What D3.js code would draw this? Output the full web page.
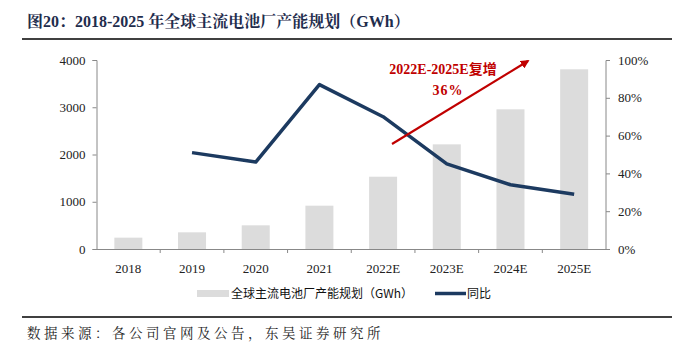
<!DOCTYPE html>
<html><head><meta charset="utf-8">
<script src="https://cdn.jsdelivr.net/npm/d3@7"></script>
<style>body{margin:0;background:#fff;}svg{display:block;}</style>
</head><body>
<svg id="c" width="675" height="351"></svg>
<script>
const categories = ["2018","2019","2020","2021","2022E","2023E","2024E","2025E"];
const capacity = [240, 353, 501, 917, 1530, 2215, 2956, 3803];
const yoy = [null, 51, 46, 87, 70, 45, 34, 29];
const leftTicks = [0, 1000, 2000, 3000, 4000];
const rightTicks = [0, 20, 40, 60, 80, 100];
const title = "图20：2018-2025 年全球主流电池厂产能规划（GWh）";
const source = "数据来源：各公司官网及公告，东吴证券研究所";
const legendNames = ["全球主流电池厂产能规划（GWh）", "同比"];
const annot = ["2022E-2025E复增", "36%"];

const svg = d3.select("#c");
const serif = "'Liberation Serif','Times New Roman',serif";
const cjk = "'Noto Sans CJK SC','Noto Sans',sans-serif";

svg.append("text").attr("x", 27).attr("y", 27)
  .attr("font-family", serif + ",'Noto Serif CJK SC','Noto Sans CJK SC'").attr("font-weight", "bold")
  .attr("font-size", 16).attr("fill", "#1f2d4d").text(title);
svg.append("line").attr("x1", 22).attr("x2", 672).attr("y1", 39).attr("y2", 39)
  .attr("stroke", "#000").attr("stroke-width", 1.5);

const xb = d3.scaleBand().domain(categories).range([96.5, 606]);
const yL = d3.scaleLinear().domain([0, 4000]).range([249, 60]);
const yR = d3.scaleLinear().domain([0, 100]).range([249, 60]);

// bars
svg.append("g").selectAll("rect").data(categories).join("rect")
  .attr("x", d => xb(d) + xb.bandwidth()/2 - 14)
  .attr("width", 28)
  .attr("y", (d,i) => yL(capacity[i]))
  .attr("height", (d,i) => yL(0) - yL(capacity[i]))
  .attr("fill", "#dcdcdc");

// axes
const axisColor = "#888";
const gl = svg.append("g").attr("transform", "translate(96.5,0)")
  .call(d3.axisLeft(yL).tickValues(leftTicks).tickSize(4).tickPadding(7).tickFormat(d3.format("d")));
const gr = svg.append("g").attr("transform", "translate(606,0)")
  .call(d3.axisRight(yR).tickValues(rightTicks).tickSize(4).tickPadding(8).tickFormat(d => d + "%"));
const gx = svg.append("g").attr("transform", "translate(0,249)")
  .call(d3.axisBottom(xb).tickSize(0).tickPadding(15));
svg.append("g").selectAll("line").data(categories.slice(1)).join("line")
  .attr("x1", d => xb(d)).attr("x2", d => xb(d)).attr("y1", 249).attr("y2", 253)
  .attr("stroke", axisColor);
[gl, gr, gx].forEach(g => {
  g.selectAll("path,line").attr("stroke", axisColor);
  g.selectAll("text").attr("font-family", serif).attr("font-size", 13).attr("fill", "#222");
});
gl.select(".domain").attr("d", "M-4,60.5H0.5V249.5H-4");
gr.select(".domain").attr("d", "M4,60.5H0V249.5H4");

// line
const pts = categories.map((c, i) => [xb(c) + xb.bandwidth()/2, yoy[i]]).filter(p => p[1] !== null);
svg.append("path").datum(pts)
  .attr("d", d3.line().x(p => p[0]).y(p => yR(p[1])))
  .attr("fill", "none").attr("stroke", "#1c3a60").attr("stroke-width", 3.5).attr("stroke-linejoin", "round");

// annotation arrow
const defs = svg.append("defs");
defs.append("marker").attr("id", "ah").attr("viewBox", "0 0 10 10").attr("refX", 8).attr("refY", 5)
  .attr("markerWidth", 4).attr("markerHeight", 4).attr("orient", "auto")
  .append("path").attr("d", "M0,0L10,5L0,10z").attr("fill", "#c00000");
svg.append("line").attr("x1", 392).attr("y1", 144).attr("x2", 528).attr("y2", 61)
  .attr("stroke", "#c00000").attr("stroke-width", 2.2).attr("marker-end", "url(#ah)");
svg.append("text").attr("x", 443).attr("y", 74).attr("text-anchor", "middle")
  .attr("font-family", serif + ",'Noto Sans CJK SC'").attr("font-weight", "bold").attr("font-size", 14)
  .attr("fill", "#c00000").text(annot[0]);
svg.append("text").attr("x", 448).attr("y", 95).attr("text-anchor", "middle")
  .attr("font-family", serif).attr("font-weight", "bold").attr("font-size", 14).attr("letter-spacing", 1)
  .attr("fill", "#c00000").text(annot[1]);

// legend
svg.append("rect").attr("x", 197).attr("y", 290).attr("width", 32).attr("height", 7).attr("fill", "#dcdcdc");
svg.append("text").attr("x", 231).attr("y", 298).attr("font-family", cjk).attr("font-size", 12)
  .attr("fill", "#111").text(legendNames[0]);
svg.append("line").attr("x1", 435).attr("x2", 466).attr("y1", 293.5).attr("y2", 293.5)
  .attr("stroke", "#1c3a60").attr("stroke-width", 3.5);
svg.append("text").attr("x", 467).attr("y", 298).attr("font-family", cjk).attr("font-size", 12)
  .attr("fill", "#111").text(legendNames[1]);

svg.append("line").attr("x1", 22).attr("x2", 672).attr("y1", 317).attr("y2", 317)
  .attr("stroke", "#000").attr("stroke-width", 1.5);
svg.append("text").attr("x", 27).attr("y", 338).attr("font-family", "'Noto Serif CJK SC','Noto Sans CJK SC',serif")
  .attr("font-size", 13.5).attr("letter-spacing", 3.5).attr("fill", "#222").text(source);
</script>
</body></html>
